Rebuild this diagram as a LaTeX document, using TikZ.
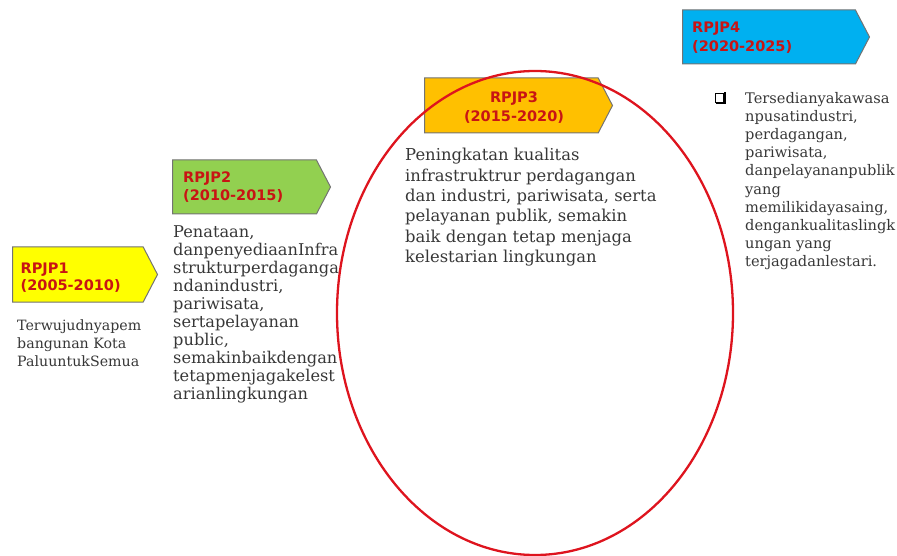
\documentclass[tikz,border=0pt]{standalone}
\usepackage{fontspec}
\setmainfont{DejaVu Serif}
\newfontfamily\boxfont{DejaVu Sans}
\usetikzlibrary{shapes.symbols,shapes.geometric}
\definecolor{boxyellow}{RGB}{255,255,0}
\definecolor{boxgreen}{RGB}{146,208,80}
\definecolor{boxorange}{RGB}{255,192,0}
\definecolor{boxblue}{RGB}{0,176,240}
\definecolor{labelred}{RGB}{200,20,20}
\definecolor{ringred}{RGB}{222,20,30}
\definecolor{bodygray}{RGB}{55,55,55}
\tikzset{
  phasebox/.style={shape=signal, signal to=east, signal pointer angle=125,
    draw=black!55, line width=1pt, inner sep=0pt, minimum height=#1},
  phaselbl/.style={font=\boxfont\bfseries\fontsize{14.5}{18}\selectfont,
    text=labelred, inner sep=0pt},
  bodytext/.style={align=left, inner sep=0pt, text=bodygray, anchor=base west}
}
\begin{document}
\begin{tikzpicture}[x=1pt, y=-1pt]
\useasboundingbox (0,0) rectangle (897,556);
%phase arrows
\node[phasebox=55, fill=boxyellow, minimum width=145, anchor=west] (p1) at (12,274.5) {};
\node[phasebox=54, fill=boxgreen, minimum width=158, anchor=west] (p2) at (172,187) {};
\node[phasebox=55, fill=boxorange, minimum width=188, anchor=west] (p3) at (424,105.5) {};
\node[phasebox=54, fill=boxblue, minimum width=187, anchor=west] (p4) at (682,37) {};
%labels in the arrows
\node[phaselbl, anchor=base west] (p1name) at (20.5,273) {RPJP1};
\node[phaselbl, anchor=base west] (p1year) at (20.5,290) {(2005-2010)};
\node[phaselbl, anchor=base west] (p2name) at (183,183) {RPJP2};
\node[phaselbl, anchor=base west] (p2year) at (183,200.5) {(2010-2015)};
\node[phaselbl, anchor=base] (p3name) at (514,103) {RPJP3};
\node[phaselbl, anchor=base] (p3year) at (514,121.5) {(2015-2020)};
\node[phaselbl, anchor=base west] (p4name) at (692,33) {RPJP4};
\node[phaselbl, anchor=base west] (p4year) at (692,51.5) {(2020-2025)};

%texts under the arrows (placed by their last line)
\node[bodytext, font=\fontsize{14.2}{18}\selectfont] (p1text) at (17,366.7)
  {Terwujudnyapem\\bangunan Kota\\PaluuntukSemua};
\node[bodytext, font=\fontsize{16.2}{18}\selectfont] (p2text) at (173,399.5)
  {Penataan,\\danpenyediaanInfra\\strukturperdaganga\\ndanindustri,\\pariwisata,\\sertapelayanan\\public,\\semakinbaikdengan\\tetapmenjagakelest\\arianlingkungan};
\node[bodytext, font=\fontsize{16.4}{20.4}\selectfont] (p3text) at (405,262.7)
  {Peningkatan kualitas\\infrastruktrur perdagangan\\dan industri, pariwisata, serta\\pelayanan publik, semakin\\baik dengan tetap menjaga\\kelestarian lingkungan};
\node[bodytext, font=\fontsize{14.6}{18.2}\selectfont] (p4text) at (745,266.8)
  {Tersedianyakawasa\\npusatindustri,\\perdagangan,\\pariwisata,\\danpelayananpublik\\yang\\memilikidayasaing,\\dengankualitaslingk\\ungan yang\\terjagadanlestari.};
%bullet box
\node[draw=black, line width=0.8pt, fill=white, minimum size=8.5pt, inner sep=0pt] (tick) at (719.5,97.8) {};
\draw[line width=1.3pt] (tick.south west) ++(1.2,0.7) -| ([xshift=0.7pt,yshift=1.2pt]tick.north east);

%ring round RPJP3
\node[draw=ringred, line width=2.3pt, ellipse, minimum width=396, minimum height=484, inner sep=0pt] (focus) at (535,313) {};
\end{tikzpicture}
\end{document}
